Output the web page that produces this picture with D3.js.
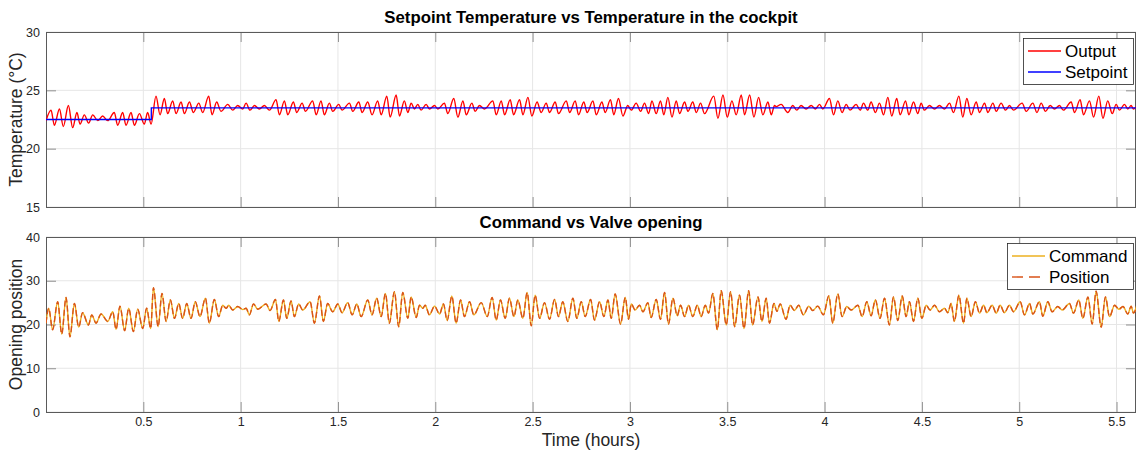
<!DOCTYPE html>
<html><head><meta charset="utf-8">
<script src="https://cdn.jsdelivr.net/npm/d3@7"></script>
<style>
html,body{margin:0;padding:0;background:#fff;}
svg{display:block;font-family:"Liberation Sans",Arial,Helvetica,sans-serif;}
</style></head>
<body><svg id="c" width="1137" height="453"></svg>
<script>
// ---------- data ----------
const xTicks = [0.5,1,1.5,2,2.5,3,3.5,4,4.5,5,5.5];
const tempTicks = [15,20,25,30];
const openTicks = [0,10,20,30,40];
const setpointData = [[0,22.5],[0.541,23.5],[5.6,23.5]];
const outputData = [
[0.000,22.4],[0.026,23.3],[0.043,22.0],[0.069,23.4],[0.089,21.9],[0.115,23.7],[0.137,21.8],[0.159,23.1],[0.175,22.1],[0.197,22.9],[0.219,22.2],[0.240,22.9],[0.266,22.4],[0.291,22.8],[0.317,22.4],[0.351,23.1],[0.368,22.0],[0.394,23.1],[0.411,22.0],[0.437,23.1],[0.454,22.0],[0.480,23.0],[0.505,22.1],[0.522,23.1],[0.540,22.1],[0.565,24.5],[0.586,22.9],[0.608,24.3],[0.625,23.0],[0.651,24.1],[0.668,23.0],[0.694,24.0],[0.711,23.0],[0.737,24.0],[0.757,23.1],[0.785,23.9],[0.805,23.1],[0.836,24.5],[0.853,22.9],[0.877,24.0],[0.899,23.2],[0.934,23.8],[0.959,23.3],[0.985,23.7],[1.011,23.4],[1.028,23.9],[1.048,23.3],[1.071,23.7],[1.096,23.4],[1.122,23.7],[1.148,23.3],[1.182,24.2],[1.199,22.9],[1.225,24.1],[1.242,22.9],[1.271,24.0],[1.288,23.1],[1.316,23.9],[1.333,23.2],[1.370,24.1],[1.388,22.9],[1.413,24.1],[1.430,22.9],[1.456,23.9],[1.473,23.2],[1.504,23.8],[1.521,23.3],[1.559,23.9],[1.576,23.2],[1.607,24.0],[1.624,23.1],[1.653,24.0],[1.675,22.9],[1.704,24.1],[1.722,22.9],[1.751,24.5],[1.768,22.7],[1.799,24.6],[1.816,22.8],[1.841,24.1],[1.859,23.1],
[1.876,23.9],[1.893,23.4],[1.910,23.8],[1.927,23.3],[1.953,23.8],[1.970,23.4],[1.996,23.7],[2.013,23.4],[2.047,23.9],[2.064,23.0],[2.095,24.3],[2.116,22.7],[2.142,24.1],[2.159,22.9],[2.188,23.9],[2.205,23.2],[2.227,23.7],[2.253,23.4],[2.296,24.1],[2.313,22.9],[2.339,24.1],[2.356,22.9],[2.385,24.2],[2.402,22.9],[2.433,24.2],[2.450,22.9],[2.476,24.4],[2.496,22.8],[2.523,24.0],[2.544,23.1],[2.570,23.9],[2.587,23.1],[2.616,24.0],[2.633,23.0],[2.673,24.1],[2.690,23.1],[2.719,24.1],[2.736,22.9],[2.763,24.0],[2.780,23.1],[2.810,24.1],[2.827,22.9],[2.856,24.0],[2.873,23.1],[2.900,24.2],[2.917,22.9],[2.941,24.3],[2.964,22.8],[2.989,23.7],[3.007,23.3],[3.032,23.9],[3.055,23.2],[3.075,23.9],[3.096,23.0],[3.113,24.1],[3.135,23.0],[3.157,24.1],[3.174,22.9],[3.195,24.4],[3.216,22.7],[3.238,24.1],[3.255,23.0],[3.281,24.0],[3.298,23.2],[3.323,24.0],[3.341,23.1],[3.363,23.9],[3.383,23.0],[3.431,24.5],[3.452,22.6],[3.478,24.6],[3.500,22.7],[3.524,24.1],[3.546,22.9],[3.572,24.6],[3.589,22.9],[3.615,24.6],[3.637,22.7],[3.661,24.4],[3.683,22.9],[3.709,24.0],[3.726,22.9],[3.743,23.7],
[3.751,23.6],[3.777,23.8],[3.811,23.1],[3.837,23.7],[3.857,23.3],[3.879,23.7],[3.905,23.4],[3.931,23.7],[3.953,23.4],[3.974,23.8],[3.991,23.4],[4.025,24.3],[4.046,22.9],[4.068,24.1],[4.090,23.1],[4.111,23.8],[4.131,23.3],[4.162,23.8],[4.183,23.3],[4.200,23.9],[4.222,23.3],[4.239,24.0],[4.261,23.1],[4.282,23.9],[4.303,22.9],[4.325,24.4],[4.345,22.8],[4.371,24.3],[4.388,22.9],[4.416,24.1],[4.433,22.9],[4.457,24.0],[4.479,23.0],[4.496,23.9],[4.513,23.3],[4.539,23.7],[4.565,23.4],[4.590,23.7],[4.616,23.4],[4.642,23.9],[4.662,23.1],[4.690,24.5],[4.710,22.7],[4.731,24.3],[4.753,22.9],[4.779,24.0],[4.796,23.1],[4.822,23.9],[4.839,23.1],[4.865,23.9],[4.882,23.2],[4.907,23.9],[4.930,23.3],[4.950,23.7],[4.971,23.3],[5.015,23.9],[5.036,23.2],[5.070,23.9],[5.091,23.1],[5.113,23.9],[5.135,23.2],[5.159,23.7],[5.181,23.4],[5.207,23.7],[5.227,23.3],[5.267,24.0],[5.284,23.1],[5.313,24.2],[5.330,22.9],[5.361,24.1],[5.382,22.7],[5.409,24.5],[5.430,22.6],[5.455,24.1],[5.478,23.0],[5.498,23.8],[5.515,23.3],[5.541,23.8],[5.558,23.4],[5.575,23.7],[5.587,23.4],[5.606,23.7]
];
const commandData = [
[0.000,20.3],[0.014,23.7],[0.034,18.8],[0.060,25.2],[0.081,17.8],[0.103,26.2],[0.123,17.2],[0.146,24.8],[0.168,19.4],[0.188,22.7],[0.218,19.9],[0.235,22.2],[0.257,20.3],[0.283,22.4],[0.317,20.7],[0.343,22.9],[0.360,18.9],[0.380,24.2],[0.404,18.6],[0.425,23.7],[0.449,18.4],[0.471,23.5],[0.497,19.1],[0.517,23.7],[0.538,19.1],[0.552,28.4],[0.576,19.5],[0.596,27.1],[0.617,20.7],[0.639,25.6],[0.660,21.4],[0.682,24.8],[0.702,21.4],[0.723,24.8],[0.745,21.4],[0.767,25.2],[0.791,21.8],[0.819,26.0],[0.839,20.3],[0.865,25.7],[0.887,21.8],[0.908,24.4],[0.925,23.7],[0.939,24.4],[0.959,23.3],[0.985,24.1],[1.011,23.4],[1.028,23.7],[1.045,22.2],[1.066,24.7],[1.088,23.5],[1.131,24.7],[1.151,23.2],[1.179,25.7],[1.196,20.7],[1.220,25.6],[1.237,21.4],[1.259,25.4],[1.276,21.8],[1.298,24.7],[1.319,23.3],[1.357,25.2],[1.379,20.3],[1.405,26.5],[1.425,20.7],[1.447,24.8],[1.473,22.9],[1.499,24.7],[1.521,22.7],[1.550,25.0],[1.573,22.2],[1.597,24.7],[1.619,21.8],[1.653,25.6],[1.675,22.2],[1.699,26.0],[1.722,21.8],[1.744,27.1],[1.764,20.3],[1.790,27.5],[1.812,19.5],[1.833,27.3],[1.859,21.4],
[1.876,26.3],[1.902,21.6],[1.919,24.4],[1.936,23.7],[1.948,24.4],[1.970,22.2],[1.996,24.2],[2.022,22.4],[2.042,24.7],[2.061,20.9],[2.085,26.5],[2.107,20.3],[2.130,25.6],[2.150,21.8],[2.176,25.2],[2.198,22.2],[2.236,25.0],[2.267,21.8],[2.292,26.2],[2.313,21.0],[2.335,25.6],[2.359,21.4],[2.381,26.0],[2.404,21.8],[2.424,25.6],[2.450,21.4],[2.472,27.3],[2.493,19.7],[2.513,26.7],[2.536,21.4],[2.561,25.0],[2.587,21.2],[2.613,25.7],[2.633,21.8],[2.655,25.2],[2.681,20.7],[2.707,26.0],[2.727,21.4],[2.750,25.2],[2.770,21.8],[2.798,25.7],[2.818,21.0],[2.844,25.2],[2.866,21.8],[2.887,25.6],[2.904,21.4],[2.924,27.0],[2.952,20.1],[2.976,26.2],[2.993,21.2],[3.007,24.7],[3.027,23.3],[3.049,24.4],[3.067,22.9],[3.092,25.0],[3.109,21.6],[3.135,25.7],[3.157,21.2],[3.178,27.3],[3.198,20.1],[3.221,26.0],[3.243,22.0],[3.260,24.4],[3.281,21.8],[3.301,24.4],[3.323,21.8],[3.346,24.4],[3.366,21.8],[3.387,24.4],[3.404,22.6],[3.426,27.1],[3.449,18.8],[3.469,27.7],[3.495,19.9],[3.517,27.5],[3.538,19.5],[3.563,26.7],[3.586,19.1],[3.610,27.7],[3.630,19.9],[3.658,26.3],[3.678,20.7],[3.700,26.0],[3.717,20.3],[3.740,24.8],
[3.755,23.0],[3.772,24.7],[3.802,21.2],[3.823,24.4],[3.845,23.2],[3.867,24.4],[3.891,22.2],[3.919,24.2],[3.939,23.2],[3.965,24.2],[3.994,22.2],[4.022,26.5],[4.042,20.3],[4.068,27.0],[4.090,21.8],[4.114,24.1],[4.136,23.3],[4.171,24.4],[4.193,21.8],[4.217,25.2],[4.239,22.0],[4.261,25.6],[4.285,21.4],[4.308,26.0],[4.333,19.9],[4.354,26.3],[4.376,20.9],[4.399,26.5],[4.419,21.8],[4.436,25.2],[4.457,20.7],[4.479,26.0],[4.500,21.4],[4.522,24.4],[4.542,23.3],[4.565,24.4],[4.590,22.9],[4.616,23.7],[4.633,22.7],[4.650,24.8],[4.667,20.7],[4.690,26.7],[4.714,20.3],[4.731,26.0],[4.753,21.8],[4.775,25.2],[4.796,22.6],[4.817,24.4],[4.834,22.7],[4.861,24.4],[4.882,22.6],[4.902,24.4],[4.924,22.7],[4.950,24.4],[4.971,22.9],[5.005,25.2],[5.027,22.2],[5.053,24.8],[5.070,22.4],[5.104,25.2],[5.121,21.9],[5.147,25.2],[5.169,22.9],[5.198,24.1],[5.221,23.3],[5.258,24.8],[5.279,22.6],[5.306,25.6],[5.327,21.4],[5.353,26.3],[5.375,20.1],[5.395,27.6],[5.421,19.4],[5.443,26.3],[5.464,21.8],[5.490,24.4],[5.512,23.5],[5.533,24.1],[5.558,22.4],[5.575,24.2],[5.587,22.6],[5.606,24.7]
];
// valve position follows the command (overlapping in the picture)
const positionData = commandData.map(d => [d[0], d[1]]);

// ---------- layout ----------
const svg = d3.select("#c");
const L = 46, R = 1136;
const panels = [
  {top:32, bottom:207, domain:[15,30], ticks:tempTicks, title:"Setpoint Temperature vs Temperature in the cockpit", ylabel:"Temperature (°C)", xlabels:false},
  {top:237, bottom:412, domain:[0,40], ticks:openTicks, title:"Command vs Valve opening", ylabel:"Opening position", xlabels:true}
];
const x = d3.scaleLinear().domain([0,5.6]).range([L,R]);
const axisColor = "#262626";

panels.forEach((p,i) => {
  p.y = d3.scaleLinear().domain(p.domain).range([p.bottom,p.top]);
  const g = svg.append("g");
  g.selectAll(".vg").data(xTicks).enter().append("line")
    .attr("x1", d=>x(d)).attr("x2", d=>x(d)).attr("y1", p.top).attr("y2", p.bottom)
    .attr("stroke","#e6e6e6").attr("stroke-width",1);
  g.selectAll(".hg").data(p.ticks).enter().append("line")
    .attr("x1", L).attr("x2", R).attr("y1", d=>p.y(d)).attr("y2", d=>p.y(d))
    .attr("stroke","#e6e6e6").attr("stroke-width",1);
  const tl = 10;
  const axB = g.append("g").attr("transform",`translate(0,${p.bottom})`)
    .call(d3.axisBottom(x).tickValues(xTicks).tickSizeInner(-tl).tickSizeOuter(0).tickPadding(5).tickFormat(p.xlabels ? d3.format("") : ""));
  const axT = g.append("g").attr("transform",`translate(0,${p.top})`)
    .call(d3.axisTop(x).tickValues(xTicks).tickSizeInner(-tl).tickSizeOuter(0).tickFormat(""));
  const axLft = g.append("g").attr("transform",`translate(${L},0)`)
    .call(d3.axisLeft(p.y).tickValues(p.ticks).tickSizeInner(-tl).tickSizeOuter(0).tickPadding(6).tickFormat(d3.format("d")));
  const axRgt = g.append("g").attr("transform",`translate(${R},0)`)
    .call(d3.axisRight(p.y).tickValues(p.ticks).tickSizeInner(-tl).tickSizeOuter(0).tickFormat(""));
  [axB,axT,axLft,axRgt].forEach(a=>{
    a.select(".domain").remove();
    a.selectAll(".tick line").attr("stroke","#777").attr("stroke-width",0.8);
    a.selectAll(".tick text").attr("fill",axisColor).attr("font-size",12.5).attr("font-family","Liberation Sans, Arial, sans-serif");
  });
  g.append("rect").attr("x",L+0.5).attr("y",p.top+0.5).attr("width",R-L-1).attr("height",p.bottom-p.top)
    .attr("fill","none").attr("stroke","#5a5a5a").attr("stroke-width",1);
  svg.append("text").attr("x",(L+R)/2).attr("y",p.top-9).attr("text-anchor","middle")
    .attr("font-weight","bold").attr("font-size",16.8).attr("fill","#000").text(p.title);
  svg.append("text").attr("transform",`translate(22,${(p.top+p.bottom)/2}) rotate(-90)`)
    .attr("text-anchor","middle").attr("font-size",17.5).attr("fill",axisColor).text(p.ylabel);
});

const clip = svg.append("defs");
panels.forEach((p,i)=>{
  clip.append("clipPath").attr("id","cp"+i).append("rect").attr("x",L).attr("y",p.top).attr("width",R-L).attr("height",p.bottom-p.top);
});

const p0 = panels[0], p1 = panels[1];
const lineOut = d3.line().x(d=>x(d[0])).y(d=>p0.y(d[1])).curve(d3.curveMonotoneX);
const lineSp = d3.line().x(d=>x(d[0])).y(d=>p0.y(d[1])).curve(d3.curveStepAfter);
const lineCmd = d3.line().x(d=>x(d[0])).y(d=>p1.y(d[1])).curve(d3.curveMonotoneX);

svg.append("path").attr("clip-path","url(#cp0)").attr("d",lineOut(outputData))
  .attr("fill","none").attr("stroke","#ff0000").attr("stroke-width",1.4);
svg.append("path").attr("clip-path","url(#cp0)").attr("d",lineSp(setpointData))
  .attr("fill","none").attr("stroke","#0000ff").attr("stroke-width",1.3);

svg.append("path").attr("clip-path","url(#cp1)").attr("d",lineCmd(commandData))
  .attr("fill","none").attr("stroke","#EDB120").attr("stroke-width",1.4);
svg.append("path").attr("clip-path","url(#cp1)").attr("d",lineCmd(positionData))
  .attr("fill","none").attr("stroke","#D95319").attr("stroke-width",1.4).attr("stroke-dasharray","6,3");

svg.append("text").attr("x",(L+R)/2).attr("y",446).attr("text-anchor","middle")
  .attr("font-size",17.5).attr("fill",axisColor).text("Time (hours)");

function legend(bx, by, bw, bh, items){
  const g = svg.append("g");
  g.append("rect").attr("x",bx+0.5).attr("y",by+0.5).attr("width",bw).attr("height",bh)
    .attr("fill","#fff").attr("stroke","#262626").attr("stroke-width",0.8);
  items.forEach((it,k)=>{
    const yy = by + 13 + k*21;
    g.append("line").attr("x1",bx+5).attr("x2",bx+38).attr("y1",yy).attr("y2",yy)
      .attr("stroke",it.color).attr("stroke-width",1.4).attr("stroke-dasharray",it.dash||null);
    g.append("text").attr("x",bx+42).attr("y",yy+6).attr("font-size",17).attr("fill","#000").text(it.label);
  });
}
legend(1023, 38, 110, 46, [{label:"Output",color:"#ff0000"},{label:"Setpoint",color:"#0000ff"}]);
legend(1007, 243, 126, 46, [{label:"Command",color:"#EDB120"},{label:"Position",color:"#D95319",dash:"11,6"}]);
</script></body></html>
